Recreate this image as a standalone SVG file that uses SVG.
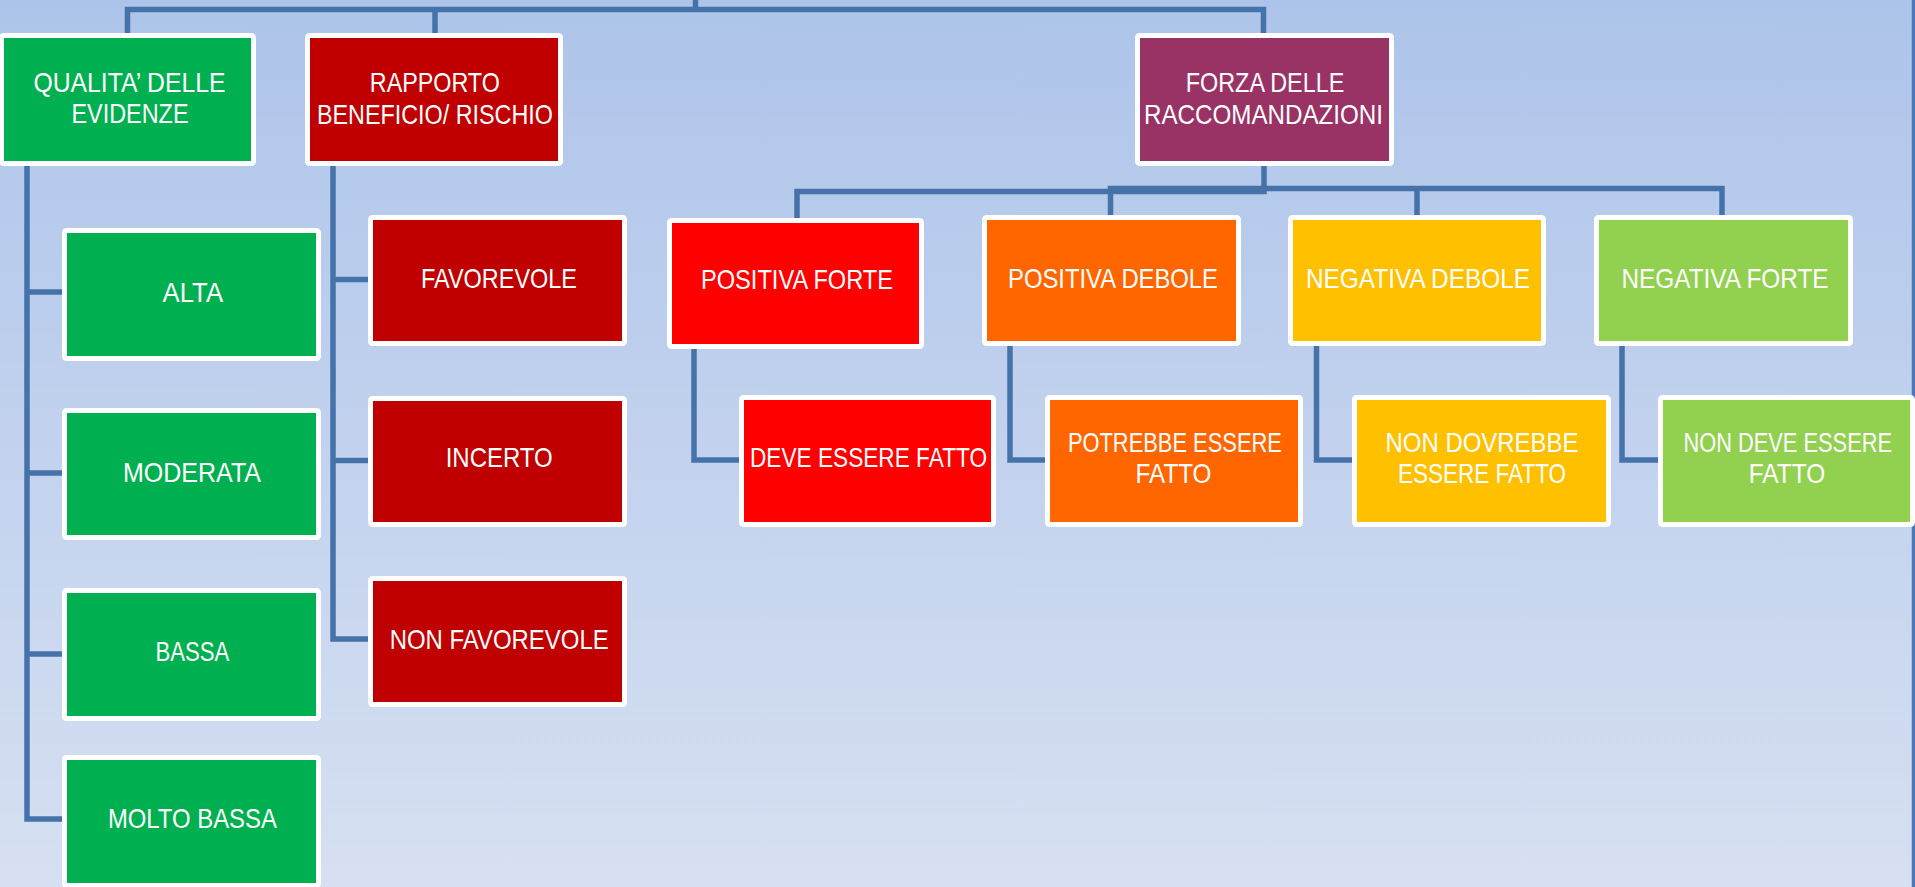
<svg xmlns="http://www.w3.org/2000/svg" width="1915" height="887" viewBox="0 0 1915 887">
<defs>
<linearGradient id="bg" x1="0" y1="0" x2="0" y2="1">
<stop offset="0" stop-color="#adc4ea"/>
<stop offset="1" stop-color="#d7e0f2"/>
</linearGradient>
</defs>
<style>
.box{stroke:#ffffff;stroke-width:5}
.g{fill:#00b050}.dr{fill:#c00000}.pu{fill:#993366}.r{fill:#ff0000}.o{fill:#ff6600}.y{fill:#ffc000}.lg{fill:#92d050}
.conn path{fill:none;stroke:#4672aa;stroke-width:5.5}
text{font-family:"Liberation Sans",Arial,sans-serif;font-size:28px;fill:#ffffff;text-anchor:middle}
</style>
<rect x="0" y="0" width="1915" height="887" fill="url(#bg)"/>
<line x1="1913.5" y1="0" x2="1913.5" y2="887" stroke="#4a78b8" stroke-width="3.5"/>
<g id="connectors" class="conn">
<path d="M695.5,0 V9.5"/>
<path d="M127.5,36 V9.5 H1263.5 V36"/>
<path d="M435,9.5 V36"/>
<path d="M27,164 V819 H64"/>
<path d="M27,292 H64"/>
<path d="M27,473 H64"/>
<path d="M27,654 H64"/>
<path d="M333,164 V639 H370"/>
<path d="M333,279.5 H370"/>
<path d="M333,460.5 H370"/>
<path d="M1264,164 V191.5 H797 V220"/>
<path d="M1110.5,217 V188.5 H1722 V217"/>
<path d="M1417,188.5 V217"/>
<path d="M694,349 V460 H741"/>
<path d="M1010,346 V460 H1047"/>
<path d="M1316.5,346 V460 H1354"/>
<path d="M1622,346 V460 H1660"/>
</g>
<g id="qualita">
<rect class="box g" x="1.5" y="35.5" width="252" height="128" rx="2"/>
<text x="129.5" y="92" textLength="192" lengthAdjust="spacingAndGlyphs">QUALITA’ DELLE</text>
<text x="130" y="123.3" textLength="117" lengthAdjust="spacingAndGlyphs">EVIDENZE</text>
</g>
<g id="rapporto">
<rect class="box dr" x="307.5" y="35.5" width="253" height="128" rx="2"/>
<text x="434.8" y="92.3" textLength="130" lengthAdjust="spacingAndGlyphs">RAPPORTO</text>
<text x="434.9" y="124.3" textLength="236" lengthAdjust="spacingAndGlyphs">BENEFICIO/ RISCHIO</text>
</g>
<g id="forza">
<rect class="box pu" x="1137.5" y="35.5" width="254" height="128" rx="2"/>
<text x="1265" y="91.7" textLength="158.5" lengthAdjust="spacingAndGlyphs">FORZA DELLE</text>
<text x="1263.5" y="124" textLength="239" lengthAdjust="spacingAndGlyphs">RACCOMANDAZIONI</text>
</g>
<g id="alta">
<rect class="box g" x="64.5" y="230.5" width="254" height="128" rx="2"/>
<text x="192.8" y="301.7" textLength="60.5" lengthAdjust="spacingAndGlyphs">ALTA</text>
</g>
<g id="moderata">
<rect class="box g" x="64.5" y="410.5" width="254" height="127" rx="2"/>
<text x="192" y="481.7" textLength="138" lengthAdjust="spacingAndGlyphs">MODERATA</text>
</g>
<g id="bassa">
<rect class="box g" x="64.5" y="590.5" width="254" height="128" rx="2"/>
<text x="192.4" y="660.7" textLength="74" lengthAdjust="spacingAndGlyphs">BASSA</text>
</g>
<g id="molto-bassa">
<rect class="box g" x="64.5" y="757.5" width="254" height="128" rx="2"/>
<text x="192.4" y="828.3" textLength="169" lengthAdjust="spacingAndGlyphs">MOLTO BASSA</text>
</g>
<g id="favorevole">
<rect class="box dr" x="370.5" y="217.5" width="254" height="126" rx="2"/>
<text x="499" y="288.3" textLength="156" lengthAdjust="spacingAndGlyphs">FAVOREVOLE</text>
</g>
<g id="incerto">
<rect class="box dr" x="370.5" y="398.5" width="254" height="126" rx="2"/>
<text x="499.2" y="467.3" textLength="107" lengthAdjust="spacingAndGlyphs">INCERTO</text>
</g>
<g id="non-favorevole">
<rect class="box dr" x="370.5" y="578.5" width="254" height="126" rx="2"/>
<text x="499.2" y="649.3" textLength="219" lengthAdjust="spacingAndGlyphs">NON FAVOREVOLE</text>
</g>
<g id="positiva-forte">
<rect class="box r" x="669.5" y="220.5" width="252" height="126" rx="2"/>
<text x="797" y="289.3" textLength="192" lengthAdjust="spacingAndGlyphs">POSITIVA FORTE</text>
</g>
<g id="positiva-debole">
<rect class="box o" x="984.5" y="217.5" width="254" height="126" rx="2"/>
<text x="1113" y="288.3" textLength="210" lengthAdjust="spacingAndGlyphs">POSITIVA DEBOLE</text>
</g>
<g id="negativa-debole">
<rect class="box y" x="1290.5" y="217.5" width="253" height="126" rx="2"/>
<text x="1418" y="288.3" textLength="224" lengthAdjust="spacingAndGlyphs">NEGATIVA DEBOLE</text>
</g>
<g id="negativa-forte">
<rect class="box lg" x="1596.5" y="217.5" width="254" height="126" rx="2"/>
<text x="1725" y="288.3" textLength="207" lengthAdjust="spacingAndGlyphs">NEGATIVA FORTE</text>
</g>
<g id="deve-essere-fatto">
<rect class="box r" x="741.5" y="397.5" width="252" height="127" rx="2"/>
<text x="868.5" y="467.3" textLength="237" lengthAdjust="spacingAndGlyphs">DEVE ESSERE FATTO</text>
</g>
<g id="potrebbe-essere-fatto">
<rect class="box o" x="1047.5" y="397.5" width="253" height="127" rx="2"/>
<text x="1174.9" y="451.7" textLength="214" lengthAdjust="spacingAndGlyphs">POTREBBE ESSERE</text>
<text x="1173.5" y="483.3" textLength="76" lengthAdjust="spacingAndGlyphs">FATTO</text>
</g>
<g id="non-dovrebbe-essere-fatto">
<rect class="box y" x="1354.5" y="397.5" width="254" height="127" rx="2"/>
<text x="1482" y="451.7" textLength="193" lengthAdjust="spacingAndGlyphs">NON DOVREBBE</text>
<text x="1482" y="483.3" textLength="168" lengthAdjust="spacingAndGlyphs">ESSERE FATTO</text>
</g>
<g id="non-deve-essere-fatto">
<rect class="box lg" x="1660.5" y="397.5" width="252" height="127" rx="2"/>
<text transform="translate(1787.7 451.7) scale(0.78 1)" x="0" y="0">NON DEVE ESSERE</text>
<text x="1787" y="483.3" textLength="76.5" lengthAdjust="spacingAndGlyphs">FATTO</text>
</g>
</svg>
